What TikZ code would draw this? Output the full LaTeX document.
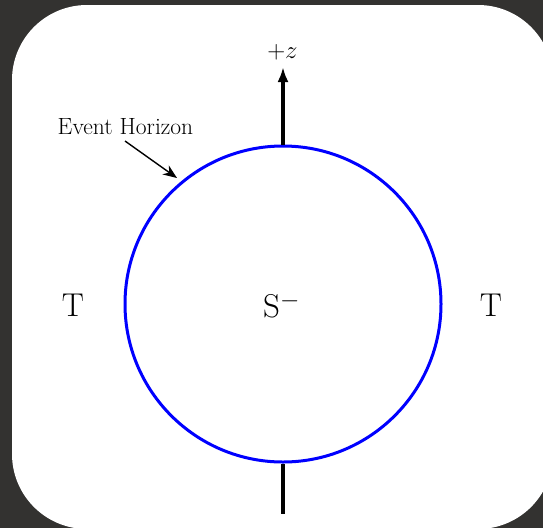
\documentclass[tikz,border=0pt]{standalone}
\usetikzlibrary{arrows.meta}
\definecolor{bgdark}{HTML}{333230}
\begin{document}
\begin{tikzpicture}[x=1pt,y=1pt,
  bigtxt/.style={font=\fontsize{33}{40}\selectfont, inner sep=0pt, anchor=base},
  smalltxt/.style={font=\fontsize{23.5}{28}\selectfont, inner sep=0pt, anchor=base},
  axisline/.style={line width=3.2pt, black},
  pointer/.style={line width=1.4pt, black, -{Stealth[length=14pt,width=11pt]}}]
\useasboundingbox (0,0) rectangle (543,-528);
\begin{scope}
\clip (0,0) rectangle (543,-528);
\fill[bgdark] (0,0) rectangle (543,-528);
\fill[white, rounded corners=75pt] (12,-5) rectangle (553,-529);
\end{scope}
% axis
\coordinate (ztip) at (283,-67);
\coordinate (zbot) at (283,-514);
\node[circle, draw=blue, line width=3pt, minimum size=316pt, inner sep=0pt] (bh) at (283,-304) {};
\draw[axisline, -{Latex[length=15pt,width=11pt]}] (bh.north) -- (ztip);
\draw[axisline] (bh.south) -- (zbot);
\node[smalltxt] (zlab) at (282.5,-58) {$+z$};
% labels
\node[smalltxt] (eh) at (125.5,-134) {Event Horizon};
\coordinate (ehtip) at (177,-178);
\coordinate (ehstart) at (125,-141);
\draw[pointer] (ehstart) -- (ehtip);
\node[bigtxt] (tl) at (73,-316) {T};
\node[bigtxt] (tr) at (491,-316) {T};
\node[bigtxt] (s) at (281.5,-317) {S$^{-}$};
\end{tikzpicture}
\end{document}
